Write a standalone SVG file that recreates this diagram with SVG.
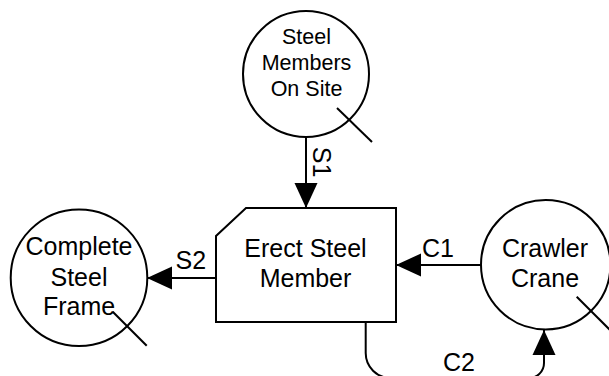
<svg xmlns="http://www.w3.org/2000/svg" width="609" height="376" viewBox="0 0 609 376">
<defs>
<style>
.shape{fill:#fff;stroke:#000;stroke-width:2}
.tick{stroke:#000;stroke-width:2;fill:none}
.conn{stroke:#000;stroke-width:2;fill:none;marker-end:url(#arr)}
text{font-family:"Liberation Sans",Arial,sans-serif;font-size:25px;fill:#000}
.c{text-anchor:middle}
.sm{font-size:21.5px}
</style>
<marker id="arr" markerUnits="userSpaceOnUse" markerWidth="26" markerHeight="24" refX="25" refY="11.5" orient="auto" viewBox="0 0 26 23">
<path d="M0,0 L25,11.5 L0,23 Z" fill="#000"/>
</marker>
</defs>
<g id="connectors">
<line class="conn" x1="306" y1="137" x2="306" y2="208"/>
<line class="conn" x1="216" y1="278" x2="147" y2="278"/>
<line class="conn" x1="481" y1="265" x2="396" y2="265"/>
<path class="conn" d="M365.7,322 V353 A25,25 0 0 0 390.7,378 H529 A15,15 0 0 0 544,363 V330"/>
<text x="313" y="162" class="c" transform="rotate(90 313 162)">S1</text>
<text x="175.5" y="269">S2</text>
<text x="422" y="256.7">C1</text>
<text x="443" y="371">C2</text>
</g>
<g id="steel-members-on-site">
<circle class="shape" cx="306" cy="74" r="63"/>
<line class="tick" x1="337" y1="108" x2="372" y2="142"/>
<text class="c sm" x="306.5" y="44">Steel</text>
<text class="c sm" x="306.5" y="70">Members</text>
<text class="c sm" x="306.5" y="96">On Site</text>
</g>
<g id="erect-steel-member">
<polygon class="shape" points="246,208 396,208 396,322 216,322 216,236"/>
<text class="c" x="305.5" y="256.7">Erect Steel</text>
<text class="c" x="305.5" y="286.7">Member</text>
</g>
<g id="complete-steel-frame">
<circle class="shape" cx="79" cy="277.7" r="68.3"/>
<text class="c" x="79" y="255">Complete</text>
<text class="c" x="79" y="285.5">Steel</text>
<text class="c" x="79" y="315">Frame</text>
<line class="tick" x1="112.7" y1="311.7" x2="146.7" y2="345.7"/>
</g>
<g id="crawler-crane">
<circle class="shape" cx="545.7" cy="264.7" r="64.7"/>
<line class="tick" x1="576.7" y1="296.7" x2="615" y2="335"/>
<text class="c" x="545" y="256.7">Crawler</text>
<text class="c" x="545" y="286.7">Crane</text>
</g>
</svg>
